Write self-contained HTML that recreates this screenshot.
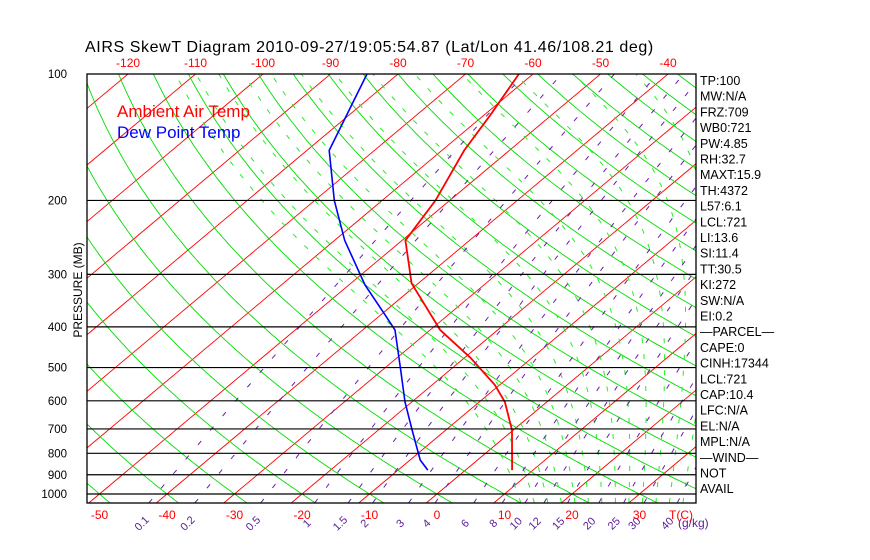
<!DOCTYPE html>
<html><head><meta charset="utf-8"><style>
html,body{margin:0;padding:0;background:#fff;width:870px;height:560px;overflow:hidden}
svg text{font-family:"Liberation Sans",sans-serif}
</style></head><body>
<svg id="chart" width="870" height="560" viewBox="0 0 870 560" xmlns="http://www.w3.org/2000/svg">
<defs><clipPath id="plotclip"><rect x="87" y="74" width="609" height="429"/></clipPath></defs>
<text x="85" y="52" font-size="16" fill="#000" letter-spacing="0.6">AIRS SkewT Diagram 2010-09-27/19:05:54.87 (Lat/Lon 41.46/108.21 deg)</text>
<g id="bg" clip-path="url(#plotclip)"></g>
<g id="prof" clip-path="url(#plotclip)"></g>
<g id="axes"></g>
<text x="117" y="117" font-size="17" fill="#ff0000">Ambient Air Temp</text>
<text x="117" y="138" font-size="17" fill="#0000ff">Dew Point Temp</text>
<text transform="translate(82,290) rotate(-90)" text-anchor="middle" font-size="12" fill="#000">PRESSURE (MB)</text>
<g id="stats"></g>
</svg>
<script>
const pressureTicks=[100,200,300,400,500,600,700,800,900,1000];
const tempTicksBottom=[-50,-40,-30,-20,-10,0,10,20,30];
const tempTicksTop=[-120,-110,-100,-90,-80,-70,-60,-50,-40];
const mixRatios=[0.1,0.2,0.5,1,1.5,2,3,4,6,8,10,12,15,20,25,30,40];
const tempP=[877,704,604,550,474,407,315,249,200,152,125,100];
const tempT=[6.9,-0.2,-6.2,-10.7,-19.1,-28.5,-41.0,-49.5,-52.1,-56.7,-59.1,-62.1];
const dewP=[877,830,704,604,501,407,375,318,249,200,152,127,100];
const dewT=[-5.6,-8.5,-15.0,-21.0,-27.7,-35.2,-39.3,-47.6,-58.5,-67.1,-76.7,-80.1,-84.6];
const statLabels=["TP:100","MW:N/A","FRZ:709","WB0:721","PW:4.85","RH:32.7","MAXT:15.9","TH:4372","L57:6.1","LCL:721","LI:13.6","SI:11.4","TT:30.5","KI:272","SW:N/A","EI:0.2","\u2014PARCEL\u2014","CAPE:0","CINH:17344","LCL:721","CAP:10.4","LFC:N/A","EL:N/A","MPL:N/A","\u2014WIND\u2014"," NOT"," AVAIL"];

const NS="http://www.w3.org/2000/svg";
const Y0=494,PX=182.4,XT=6.75,X0=437,SK=1.193;
function yP(p){return Y0-PX*Math.log(1000/p);}
function xT(T,p){return X0+XT*T+SK*(Y0-yP(p));}
function mk(parent,tag,attrs){const e=document.createElementNS(NS,tag);for(const k in attrs)e.setAttribute(k,attrs[k]);parent.appendChild(e);return e;}
const bg=document.getElementById('bg'),ax=document.getElementById('axes'),pr=document.getElementById('prof'),st=document.getElementById('stats');
function pathOf(pts){return pts.map((q,i)=>(i?'L':'M')+q[0].toFixed(1)+','+q[1].toFixed(1)).join('');}
const pGrid=[];for(let p=1050;p>=95;p-=5)pGrid.push(p);

for(let T=-160;T<=60;T+=10){
  const l=mk(bg,'line',{x1:xT(T,1050),y1:yP(1050),x2:xT(T,95),y2:yP(95),stroke:'#ff0000','stroke-width':0.9});
  
  
}
for(let th=-60;th<=250;th+=10){
  const pts=pGrid.map(p=>[xT((th+273.15)*Math.pow(p/1000,0.286)-273.15,p),yP(p)]);
  const l=mk(bg,'path',{d:pathOf(pts),fill:'none',stroke:'#00dd00','stroke-width':0.9});
  
  
}
function es(T){return 6.112*Math.exp(17.67*T/(T+243.5));}
for(let tw=14;tw<=40;tw+=2){
  let T=tw+273.15,pts=[];
  for(let lp=Math.log(1050);lp>=Math.log(95);lp-=0.01){
    const p=Math.exp(lp);pts.push([xT(T-273.15,p),yP(p)]);
    const rs=0.622*es(T-273.15)/(p-es(T-273.15));
    const dT=(287*T+2.5e6*rs)/(1004+2.5e6*2.5e6*rs*0.622/(287*T*T));
    T-=dT*0.01;
  }
  const l=mk(bg,'path',{d:pathOf(pts),fill:'none',stroke:'#22ee22','stroke-width':1,'stroke-dasharray':'5,11'});
  
  
}
function tw_of(w,p){const e=w*p/(622+w);const a=Math.log(e/6.112);return 243.5*a/(17.67-a);}
mixRatios.forEach(w=>{
  const pts=pGrid.map(p=>[xT(tw_of(w,p),p),yP(p)]);
  const l=mk(bg,'path',{d:pathOf(pts),fill:'none',stroke:'#6a1bb0','stroke-width':1,'stroke-dasharray':'5,14'});
  
  
  const x=xT(tw_of(w,1000),1000)-12;
  const t=mk(ax,'text',{x:x,y:526,'font-size':11,fill:'#5a1a9a','text-anchor':'middle',transform:'rotate(-45 '+x+' 526)'});
  t.textContent=String(w);
  
  
});
{const t=mk(ax,'text',{x:678,y:527,'font-size':12,fill:'#5a1a9a'});t.textContent='(g/kg)';

}
pressureTicks.forEach(p=>{
  const y=yP(p);
  if(p>100){const l=mk(ax,'line',{x1:87,y1:y,x2:696,y2:y,stroke:'#000','stroke-width':1.2});
  
  }
  const t=mk(ax,'text',{x:67,y:y+4,'font-size':11.5,fill:'#000','text-anchor':'end'});t.textContent=p;
  
  
});
{const r=mk(ax,'rect',{x:87,y:74,width:609,height:429,fill:'none',stroke:'#000','stroke-width':1.3});

}
tempTicksBottom.forEach(T=>{
  const t=mk(ax,'text',{x:X0+XT*T,y:519,'font-size':12,fill:'#ff0000','text-anchor':'middle'});t.textContent=T;
  
  
});
{const t=mk(ax,'text',{x:681,y:519,'font-size':12,fill:'#ff0000','text-anchor':'middle'});t.textContent='T(C)';

}
tempTicksTop.forEach(T=>{
  const t=mk(ax,'text',{x:xT(T,100),y:67,'font-size':12,fill:'#ff0000','text-anchor':'middle'});t.textContent=T;
  
  
});
{const l=mk(pr,'path',{d:pathOf(tempP.map((p,i)=>[xT(tempT[i],p),yP(p)])),fill:'none',stroke:'#ff0000','stroke-width':1.8});

}
{const l=mk(pr,'path',{d:pathOf(dewP.map((p,i)=>[xT(dewT[i],p),yP(p)])),fill:'none',stroke:'#0000ff','stroke-width':1.6});

}
statLabels.forEach((s,i)=>{
  const t=mk(st,'text',{x:700,y:85+i*15.7,'font-size':12.5,fill:'#000'});t.textContent=s;
  
  
});
</script>
</body></html>
